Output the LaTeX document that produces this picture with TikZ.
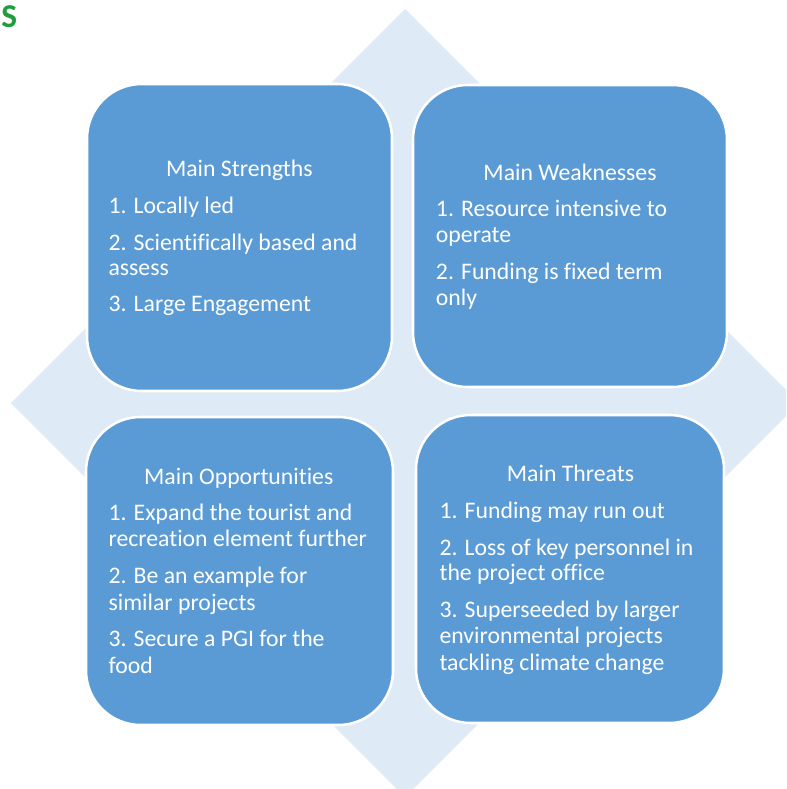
\documentclass[tikz,border=0pt]{standalone}
\usepackage{fontspec}
\setmainfont{Carlito}[Ligatures=NoCommon]
\definecolor{boxblue}{HTML}{5B9BD5}
\definecolor{diamondblue}{HTML}{DEEAF6}
\definecolor{sgreen}{HTML}{1E9E3E}
\begin{document}
\begin{tikzpicture}[x=0.75pt,y=-0.75pt,
  quad/.style={draw=white, line width=1.9pt, fill=boxblue, rounded corners=41pt, inner sep=0pt},
  ttl/.style={text=white, font=\fontsize{17.8}{20}\selectfont, anchor=base, inner sep=0pt},
  itm/.style={text=white, font=\fontsize{17.8}{20}\selectfont, anchor=base west, inner sep=0pt}]
\clip (0,0) rectangle (786,789);
\fill[white] (0,0) rectangle (786,789);
% background diamond
\fill[diamondblue] (405,9) -- (799,403) -- (405,797) -- (11,403) -- cycle;
% heading fragment
\node[text=sgreen, font=\fontsize{25}{29}\selectfont\bfseries, anchor=base west, inner sep=0pt] (hs) at (1,27) {S};
% quadrants
\draw[quad] (87,84) rectangle (392,391);
\draw[quad] (413,85) rectangle (727,387);
\draw[quad] (86,417) rectangle (393,725);
\draw[quad] (416,415) rectangle (724,723);
% Strengths
\node[ttl] (st) at (239.3,176.7) {Main Strengths};
\node[itm] (s1) at (108.3,213.3) {1. Locally led};
\node[itm] (s2a) at (108.3,250) {2. Scientifically based and};
\node[itm] (s2b) at (108.3,275) {assess};
\node[itm] (s3) at (108.3,311.7) {3. Large Engagement};
% Weaknesses
\node[ttl] (wt) at (570,180) {Main Weaknesses};
\node[itm] (w1a) at (435.7,216.7) {1. Resource intensive to};
\node[itm] (w1b) at (435.7,242) {operate};
\node[itm] (w2a) at (435.7,279.3) {2. Funding is fixed term};
\node[itm] (w2b) at (435.7,305) {only};
% Opportunities
\node[ttl] (ot) at (238.8,484) {Main Opportunities};
\node[itm] (o1a) at (108.3,520.7) {1. Expand the tourist and};
\node[itm] (o1b) at (108.3,546.7) {recreation element further};
\node[itm] (o2a) at (108.3,583.3) {2. Be an example for};
\node[itm] (o2b) at (108.3,610) {similar projects};
\node[itm] (o3a) at (108.3,646.7) {3. Secure a PGI for the};
\node[itm] (o3b) at (108.3,673.3) {food};
% Threats
\node[ttl] (tt) at (570.5,481.7) {Main Threats};
\node[itm] (t1) at (439.3,518.3) {1. Funding may run out};
\node[itm] (t2a) at (439.3,555) {2. Loss of key personnel in};
\node[itm] (t2b) at (439.3,580) {the project office};
\node[itm] (t3a) at (439.3,617.3) {3. Superseeded by larger};
\node[itm] (t3b) at (439.3,643.3) {environmental projects};
\node[itm] (t3c) at (439.3,670) {tackling climate change};
\end{tikzpicture}
\end{document}
